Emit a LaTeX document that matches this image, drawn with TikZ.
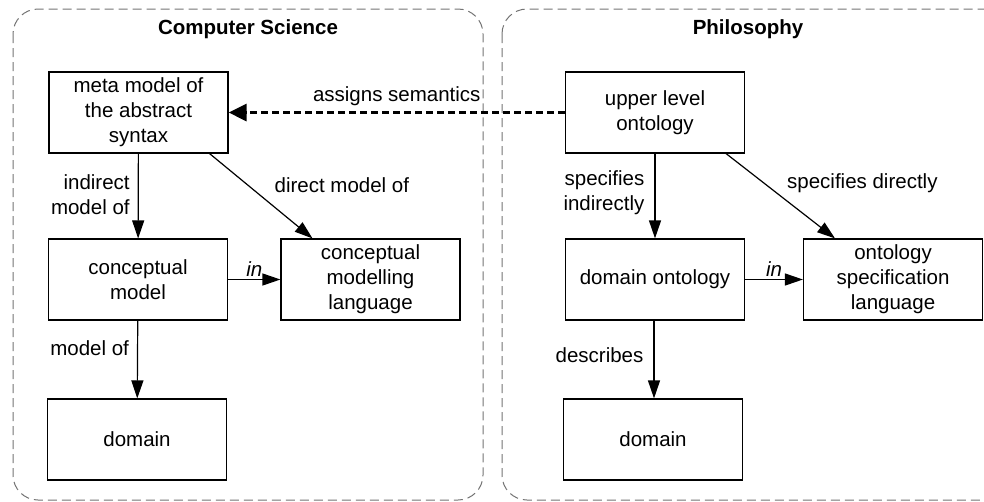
\documentclass[tikz,border=0pt]{standalone}
\usepackage{fontspec}
\setmainfont{Liberation Sans}
\usetikzlibrary{positioning, arrows.meta}

\tikzset{
  box/.style={draw, line width=1.2pt, minimum width=179pt, minimum height=81pt, align=center, inner sep=2pt},
  area/.style={draw=black!55, dash pattern=on 9pt off 5pt, line width=1pt, rounded corners=25pt},
  rel/.style={-{Triangle[length=18pt,width=12pt]}, line width=1.2pt},
  sem/.style={-{Triangle[length=18pt,width=17pt]}, line width=3pt, dash pattern=on 7pt off 4pt},
  lbl/.style={inner sep=2pt},
  title/.style={font=\fontsize{20.5}{25}\selectfont\bfseries}
}

\begin{document}
\begin{tikzpicture}[x=1pt, y=-1pt, every node/.style={font=\fontsize{20.5}{25}\selectfont}]
                \useasboundingbox (0, 0) rectangle (984, 501);

                % the two areas
                \draw [area] (13, 9) rectangle (483, 500);
                \draw [area] (502, 9) rectangle (1010, 500);
                \node [title] (cstitle) at (248, 29) {Computer Science};
                \node [title] (phtitle) at (748, 29) {Philosophy};

                % computer science side
                \node [box] (meta) at (138.5, 112.5) {meta model of\\the abstract\\syntax};
                \node [box] (cmodel) at (138, 279.5) {conceptual\\model};
                \node [box] (cmlang) at (370.5, 279.5) {conceptual\\modelling\\language};
                \node [box] (csdomain) at (137, 439.5) {domain};

                % philosophy side
                \node [box] (upper) at (655, 112.5) {upper level\\ontology};
                \node [box] (dontology) at (655, 279.5) {domain ontology};
                \node [box] (ospec) at (893, 279.5) {ontology\\specification\\language};
                \node [box] (phdomain) at (653, 439.5) {domain};

                \draw [sem] (upper) -- (meta) node [lbl, midway, above, yshift = 3pt] {assigns semantics};

                \draw [rel] (meta) -- (cmodel) node [lbl, midway, left, align = right, xshift = -6pt, yshift = 1pt] {indirect\\model of};
                \draw [rel] ([xshift = -19pt] meta.south east) -- ([xshift = -58pt] cmlang.north) node [lbl, midway, anchor = south west, xshift = 11pt, yshift = 1pt] {direct model of};
                \draw [rel] (cmodel) -- (cmlang) node [lbl, midway, above, font = \fontsize{20.5}{25}\selectfont\itshape] {in};
                \draw [rel] (cmodel) -- (csdomain) node [lbl, pos = 0.35, left, xshift = -6pt] {model of};

                \draw [rel] (upper) -- (dontology) node [lbl, midway, left, align = right, xshift = -8pt, yshift = 3pt] {specifies\\indirectly};
                \draw [rel] ([xshift = -19pt] upper.south east) -- ([xshift = -58pt] ospec.north) node [lbl, midway, anchor = south west, xshift = 4pt, yshift = 1pt] {specifies directly};
                \draw [rel] (dontology) -- (ospec) node [lbl, midway, above, font = \fontsize{20.5}{25}\selectfont\itshape] {in};
                \draw [rel] ([xshift = -1pt] dontology.south) -- ([xshift = 1pt] phdomain.north) node [lbl, pos = 0.45, left, xshift = -8pt] {describes};
            \end{tikzpicture}
\end{document}
